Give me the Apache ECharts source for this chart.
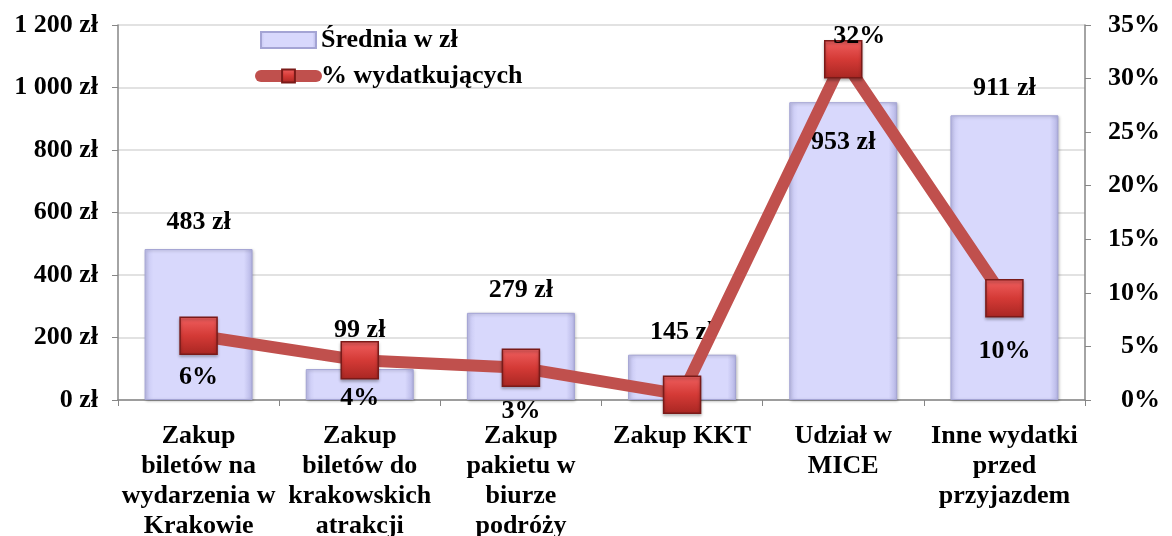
<!DOCTYPE html>
<html>
<head>
<meta charset="utf-8">
<script src="https://cdn.jsdelivr.net/npm/echarts@6/dist/echarts.min.js"></script>
<style>
  html, body { margin: 0; padding: 0; background: #fff; }
  #chart { width: 1172px; height: 536px; }
</style>
</head>
<body>
<div id="chart"></div>
<script>
// dane
var categories = [
  'Zakup\nbiletów na\nwydarzenia w\nKrakowie',
  'Zakup\nbiletów do\nkrakowskich\natrakcji',
  'Zakup\npakietu w\nbiurze\npodróży',
  'Zakup KKT',
  'Udział w\nMICE',
  'Inne wydatki\nprzed\nprzyjazdem'
];
var avgSpend = [483, 99, 279, 145, 953, 911];
var pctSpenders = [6.0, 3.7, 3.0, 0.5, 31.8, 9.5];
var pctLabels = ['6%', '4%', '3%', '', '32%', '10%'];
var leftTicks = [0, 200, 400, 600, 800, 1000, 1200];
var rightTicks = [0, 5, 10, 15, 20, 25, 30, 35];

var FONT = '"Liberation Serif", "Times New Roman", serif';
var FS = 26;

function fmtZl(v) {
  return String(v).replace(/\B(?=(\d{3})+(?!\d))/g, ' ') + ' zł';
}

var chart = echarts.init(document.getElementById('chart'));

// rozmieszczenie etykiet (jak w oryginale)
var barLabelPos = [
  { position: 'top', distance: 14 },
  { position: 'top', distance: 26 },
  { position: 'top', distance: 10 },
  { position: 'top', distance: 9 },
  { position: 'insideTop', distance: 27 },
  { position: 'top', distance: 14 }
];
var lineLabelPos = [
  { position: 'bottom', distance: 9, offset: [0, 0] },
  { position: 'bottom', distance: 6, offset: [0, 0] },
  { position: 'bottom', distance: 11, offset: [0, 0] },
  { position: 'bottom', distance: 5, offset: [0, 0] },
  { position: 'top', distance: -9, offset: [16, 0] },
  { position: 'bottom', distance: 21, offset: [0, 0] }
];

var barData = avgSpend.map(function (v, i) {
  return {
    value: v,
    label: { position: barLabelPos[i].position, distance: barLabelPos[i].distance }
  };
});
var lineData = pctSpenders.map(function (v, i) {
  return {
    value: v,
    label: {
      position: lineLabelPos[i].position,
      distance: lineLabelPos[i].distance,
      offset: lineLabelPos[i].offset,
      formatter: pctLabels[i]
    }
  };
});

var labelStyle = { fontFamily: FONT, fontSize: FS, fontWeight: 'bold', color: '#000' };

var option = {
  animation: false,
  textStyle: { fontFamily: FONT },
  grid: { left: 118, right: 87, top: 25, bottom: 136, outerBoundsMode: 'none', containLabel: false },
  legend: {
    orient: 'vertical',
    left: 250,
    top: 22,
    itemGap: 10,
    itemWidth: 55,
    itemHeight: 16,
    textStyle: labelStyle,
    data: [
      { name: 'Średnia w zł', icon: 'rect' },
      { name: '% wydatkujących', lineStyle: { width: 12, color: '#c0504d', cap: 'round' } }
    ]
  },
  xAxis: {
    type: 'category',
    data: categories,
    axisLine: { lineStyle: { color: '#868686', width: 1.5 } },
    axisTick: { show: true, length: 6, lineStyle: { color: '#868686' } },
    axisLabel: {
      interval: 0,
      margin: 21,
      lineHeight: 30,
      fontFamily: FONT,
      fontSize: FS,
      fontWeight: 'bold',
      color: '#000'
    }
  },
  yAxis: [
    {
      type: 'value',
      min: leftTicks[0],
      max: leftTicks[leftTicks.length - 1],
      interval: 200,
      axisLine: { show: true, lineStyle: { color: '#868686', width: 1.5 } },
      axisTick: { show: true, length: 6, lineStyle: { color: '#868686' } },
      splitLine: { lineStyle: { color: '#d9d9d9', width: 1.5 } },
      axisLabel: {
        margin: 20,
        fontFamily: FONT,
        fontSize: FS,
        fontWeight: 'bold',
        color: '#000',
        formatter: fmtZl
      }
    },
    {
      type: 'value',
      min: rightTicks[0],
      max: rightTicks[rightTicks.length - 1],
      interval: 5,
      axisLine: { show: true, lineStyle: { color: '#868686', width: 1.5 } },
      axisTick: { show: true, length: 6, lineStyle: { color: '#868686' } },
      splitLine: { show: false },
      axisLabel: {
        margin: 75,
        align: 'right',
        fontFamily: FONT,
        fontSize: FS,
        fontWeight: 'bold',
        color: '#000',
        formatter: '{value}%'
      }
    }
  ],
  series: [
    {
      name: 'Średnia w zł',
      type: 'bar',
      yAxisIndex: 0,
      barWidth: '67%',
      data: barData,
      itemStyle: {
        color: new echarts.graphic.LinearGradient(0, 0, 1, 0, [
          { offset: 0, color: '#c4c4f0' },
          { offset: 0.08, color: '#d8d8fc' },
          { offset: 0.92, color: '#d8d8fc' },
          { offset: 1, color: '#b4b4e4' }
        ]),
        borderColor: '#a4a4d4',
        borderWidth: 1,
        shadowColor: 'rgba(0,0,0,0.25)',
        shadowBlur: 3,
        shadowOffsetX: 1,
        shadowOffsetY: 1
      },
      label: {
        show: true,
        fontFamily: FONT,
        fontSize: FS,
        fontWeight: 'bold',
        color: '#000',
        formatter: function (p) { return fmtZl(p.value); }
      },
      z: 2
    },
    {
      name: '% wydatkujących',
      type: 'line',
      yAxisIndex: 1,
      data: lineData,
      symbol: 'rect',
      symbolSize: 37,
      lineStyle: { color: '#c0504d', width: 12 },
      itemStyle: {
        color: new echarts.graphic.LinearGradient(0, 0, 0, 1, [
          { offset: 0, color: '#f06060' },
          { offset: 0.5, color: '#d43a36' },
          { offset: 1, color: '#a82622' }
        ]),
        borderColor: '#7a1a18',
        borderWidth: 1.5,
        shadowColor: 'rgba(0,0,0,0.3)',
        shadowBlur: 3,
        shadowOffsetY: 2
      },
      label: {
        show: true,
        fontFamily: FONT,
        fontSize: FS,
        fontWeight: 'bold',
        color: '#000'
      },
      z: 3
    }
  ]
};

chart.setOption(option);
</script>
</body>
</html>
